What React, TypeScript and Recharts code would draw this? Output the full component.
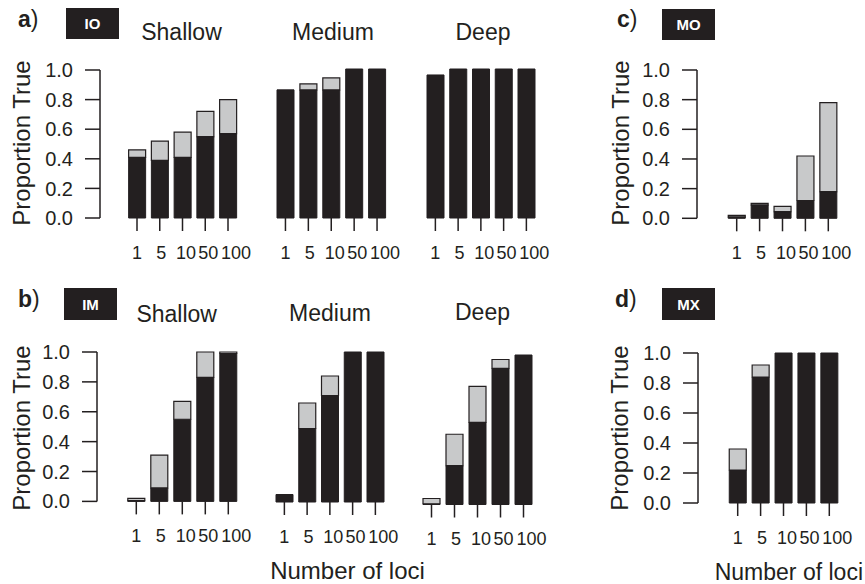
import { BarChart, Bar, XAxis, YAxis } from "recharts";

const loci = ["1", "5", "10", "50", "100"];
const yTicks = [0, 0.2, 0.4, 0.6, 0.8, 1.0];
// the tick labels in the original sit a little right of their ticks, more so for the wider ones
const labelShift = [0, 1.5, 3.5, 3, 8];

// a) IO
const ioShallowDark = [0.41, 0.39, 0.41, 0.55, 0.57];
const ioShallowLight = [0.05, 0.13, 0.17, 0.17, 0.23];
const ioMediumDark = [0.86, 0.86, 0.86, 1.0, 1.0];
const ioMediumLight = [0, 0.04, 0.08, 0, 0];
const ioDeepDark = [0.96, 1.0, 1.0, 1.0, 1.0];
const ioDeepLight = [0, 0, 0, 0, 0];

// b) IM
const imShallowDark = [0.005, 0.09, 0.55, 0.83, 0.99];
const imShallowLight = [0.015, 0.22, 0.12, 0.17, 0.01];
const imMediumDark = [0.05, 0.49, 0.71, 1.0, 1.0];
const imMediumLight = [0, 0.17, 0.13, 0, 0];
const imDeepDark = [0.005, 0.26, 0.55, 0.91, 1.0];
const imDeepLight = [0.035, 0.21, 0.24, 0.06, 0];

// c) MO
const moDark = [0.01, 0.09, 0.045, 0.12, 0.18];
const moLight = [0.01, 0.01, 0.035, 0.3, 0.6];

// d) MX
const mxDark = [0.22, 0.84, 1.0, 1.0, 1.0];
const mxLight = [0.14, 0.08, 0, 0, 0];

const INK = "#231f20";
const GREY = "#c8c9ca";
const FONT = "'Liberation Sans', Arial, Helvetica, sans-serif";

function rows(dark: number[], light: number[]) {
  return loci.map((l, i) => ({ locus: l, dark: dark[i], light: light[i] }));
}

function LociTick(props: any) {
  const { x, y, payload, index } = props;
  return (
    <text x={x + (labelShift[index] || 0)} y={y} dy="0.71em" textAnchor="middle" fill={INK} fontSize={18} fontFamily={FONT}>
      {payload.value}
    </text>
  );
}

interface SubChartProps {
  dark: number[];
  light: number[];
  top: number;
  bottom: number;
  firstCenter: number;
  pitch: number;
  axisX?: number;
}

function SubChart({ dark, light, top, bottom, firstCenter, pitch, axisX }: SubChartProps) {
  const showY = axisX !== undefined;
  const yW = showY ? 70 : 0;
  const plotLeft = showY ? (axisX as number) : firstCenter - pitch / 2;
  const padL = firstCenter - pitch / 2 - plotLeft;
  const plotW = padL + 5 * pitch;
  const mTop = 12;
  const mRight = 30;
  const xH = 50;
  const w = yW + plotW + mRight;
  const h = mTop + (bottom - top) + xH;
  return (
    <div style={{ position: "absolute", left: plotLeft - yW, top: top - mTop }}>
      <BarChart
        width={w}
        height={h}
        data={rows(dark, light)}
        margin={{ top: mTop, right: mRight, bottom: 0, left: 0 }}
      >
        <XAxis
          dataKey="locus"
          type="category"
          height={xH}
          padding={{ left: padL, right: 0 }}
          axisLine={false}
          tickLine={{ stroke: INK, strokeWidth: 1.5 }}
          tickSize={13}
          tickMargin={15}
          interval={0}
          tick={<LociTick />}
        />
        <YAxis
          hide={!showY}
          width={yW}
          domain={[0, 1]}
          ticks={yTicks}
          tickFormatter={(v: number) => v.toFixed(1)}
          axisLine={{ stroke: INK, strokeWidth: 1.5 }}
          tickLine={{ stroke: INK, strokeWidth: 1.5 }}
          tickSize={15}
          tickMargin={12}
          tick={{ fill: INK, fontSize: 20, fontFamily: FONT }}
        />
        <Bar dataKey="dark" stackId="s" fill={INK} stroke={INK} strokeWidth={1} barSize={17} isAnimationActive={false} />
        <Bar dataKey="light" stackId="s" fill={GREY} stroke={INK} strokeWidth={1.2} barSize={17} isAnimationActive={false} />
      </BarChart>
    </div>
  );
}

function Tag({ x, y, w, h, label }: { x: number; y: number; w: number; h: number; label: string }) {
  return (
    <g>
      <rect x={x} y={y} width={w} height={h} fill={INK} />
      <text x={x + w / 2} y={y + h / 2 + 5.5} textAnchor="middle" fill="#fff" fontSize={15} fontWeight="bold">
        {label}
      </text>
    </g>
  );
}

function YTitle({ x, y }: { x: number; y: number }) {
  return (
    <text x={x} y={y} transform={`rotate(-90 ${x} ${y})`} textAnchor="middle" fontSize={24} fill={INK}>
      Proportion True
    </text>
  );
}

function PanelLetter({ x, y, letter }: { x: number; y: number; letter: string }) {
  return (
    <text x={x} y={y} fontSize={23} fill={INK}>
      <tspan fontWeight="bold">{letter}</tspan>)
    </text>
  );
}

export default function App() {
  return (
    <div style={{ position: "absolute", left: 0, top: 0, width: 865, height: 584, background: "#fff", fontFamily: FONT, overflow: "hidden" }}>
      {/* a) IO */}
      <SubChart dark={ioShallowDark} light={ioShallowLight} top={69.5} bottom={217.5} firstCenter={137} pitch={22.75} axisX={100} />
      <SubChart dark={ioMediumDark} light={ioMediumLight} top={68.5} bottom={217.5} firstCenter={285} pitch={22.9} />
      <SubChart dark={ioDeepDark} light={ioDeepLight} top={68.5} bottom={217.5} firstCenter={435.7} pitch={22.75} />
      {/* c) MO */}
      <SubChart dark={moDark} light={moLight} top={70} bottom={218.3} firstCenter={737} pitch={22.9} axisX={697.3} />
      {/* b) IM */}
      <SubChart dark={imShallowDark} light={imShallowLight} top={352.3} bottom={501.7} firstCenter={136} pitch={23} axisX={96.7} />
      <SubChart dark={imMediumDark} light={imMediumLight} top={351.5} bottom={501.5} firstCenter={284} pitch={22.75} />
      <SubChart dark={imDeepDark} light={imDeepLight} top={354.5} bottom={504} firstCenter={431} pitch={23} />
      {/* d) MX */}
      <SubChart dark={mxDark} light={mxLight} top={352.7} bottom={502.7} firstCenter={738} pitch={22.9} axisX={698.3} />

      <svg width={865} height={584} style={{ position: "absolute", left: 0, top: 0, pointerEvents: "none" }} fontFamily={FONT}>
        <PanelLetter x={18} y={27} letter="a" />
        <Tag x={66} y={8} w={53} h={31} label="IO" />
        <text x={181.5} y={40} textAnchor="middle" fontSize={23} fill={INK}>Shallow</text>
        <text x={333} y={40} textAnchor="middle" fontSize={23} fill={INK}>Medium</text>
        <text x={483} y={39.5} textAnchor="middle" fontSize={23} fill={INK}>Deep</text>
        <YTitle x={30} y={143} />

        <PanelLetter x={617} y={27} letter="c" />
        <Tag x={662} y={9} w={53} h={31} label="MO" />
        <YTitle x={629} y={143} />

        <PanelLetter x={18} y={307} letter="b" />
        <Tag x={64} y={288} w={53} h={32} label="IM" />
        <text x={176.7} y={321.5} textAnchor="middle" fontSize={23} fill={INK}>Shallow</text>
        <text x={330} y={320.7} textAnchor="middle" fontSize={23} fill={INK}>Medium</text>
        <text x={482.5} y={319.5} textAnchor="middle" fontSize={23} fill={INK}>Deep</text>
        <YTitle x={30} y={428} />
        <text x={347.5} y={579} textAnchor="middle" fontSize={24} fill={INK}>Number of loci</text>

        <PanelLetter x={615} y={307} letter="d" />
        <Tag x={662} y={288} w={53} h={32} label="MX" />
        <YTitle x={628} y={428} />
        <text x={863} y={580} textAnchor="end" fontSize={23} fill={INK}>Number of loci</text>
      </svg>
    </div>
  );
}
